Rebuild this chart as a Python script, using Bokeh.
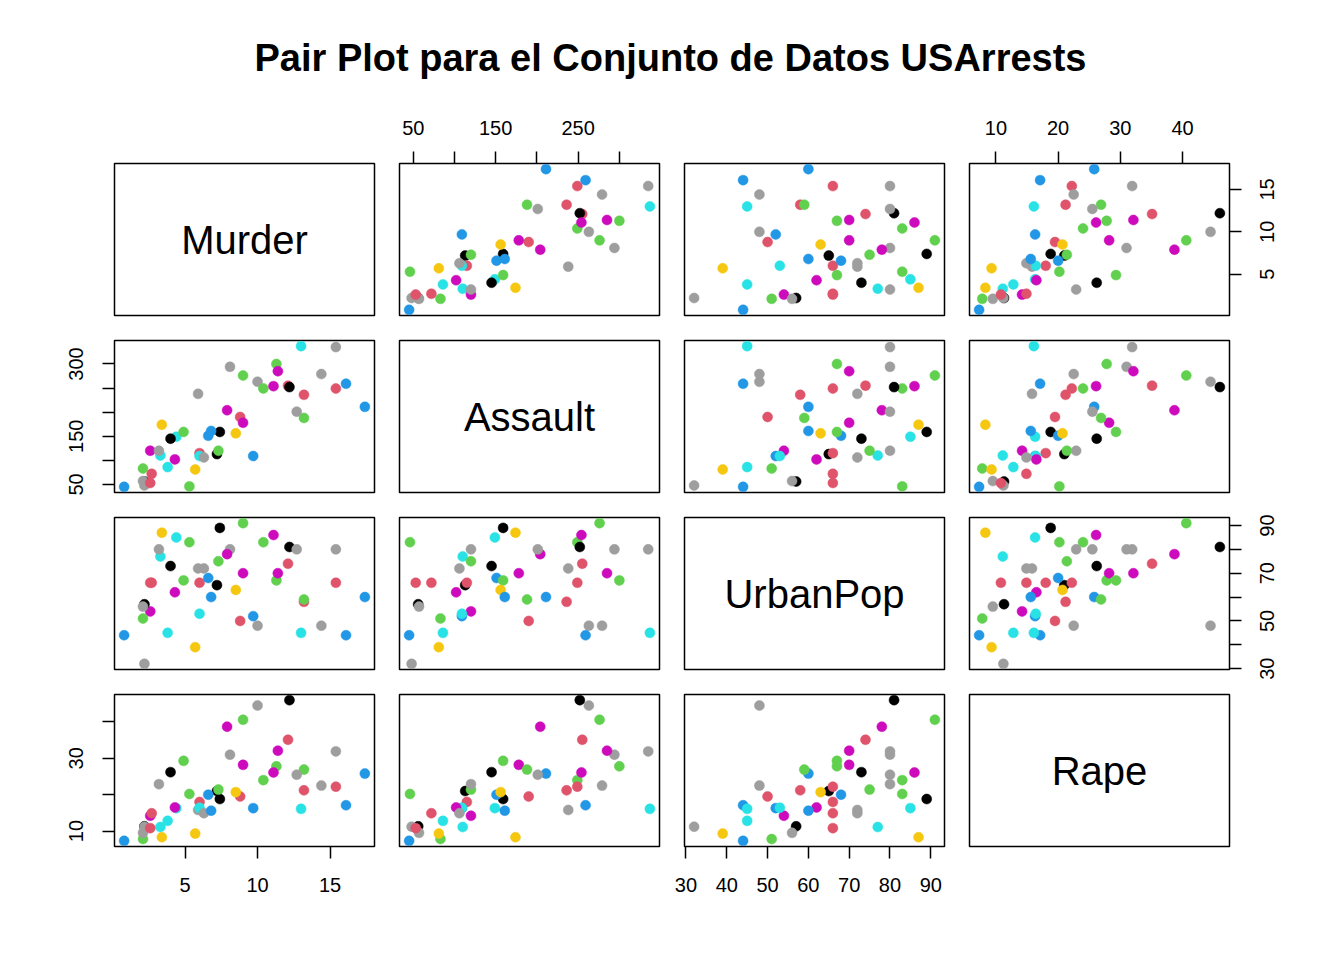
import math
from bokeh.plotting import figure
from bokeh.layouts import gridplot, column
from bokeh.models import Range1d, LinearAxis, FixedTicker, Label, Div
from bokeh.embed import file_html
from bokeh.resources import INLINE

states = ["Alabama", "Alaska", "Arizona", "Arkansas", "California", "Colorado", "Connecticut",
          "Delaware", "Florida", "Georgia", "Hawaii", "Idaho", "Illinois", "Indiana", "Iowa",
          "Kansas", "Kentucky", "Louisiana", "Maine", "Maryland", "Massachusetts", "Michigan",
          "Minnesota", "Mississippi", "Missouri", "Montana", "Nebraska", "Nevada", "New Hampshire",
          "New Jersey", "New Mexico", "New York", "North Carolina", "North Dakota", "Ohio",
          "Oklahoma", "Oregon", "Pennsylvania", "Rhode Island", "South Carolina", "South Dakota",
          "Tennessee", "Texas", "Utah", "Vermont", "Virginia", "Washington", "West Virginia",
          "Wisconsin", "Wyoming"]
murder = [13.2, 10.0, 8.1, 8.8, 9.0, 7.9, 3.3, 5.9, 15.4, 17.4, 5.3, 2.6, 10.4, 7.2, 2.2,
          6.0, 9.7, 15.4, 2.1, 11.3, 4.4, 12.1, 2.7, 16.1, 9.0, 6.0, 4.3, 12.2, 2.1, 7.4,
          11.4, 11.1, 13.0, 0.8, 7.3, 6.6, 4.9, 6.3, 3.4, 14.4, 3.8, 13.2, 12.7, 3.2, 2.2,
          8.5, 4.0, 5.7, 2.6, 6.8]
assault = [236, 263, 294, 190, 276, 204, 110, 238, 335, 211, 46, 120, 249, 113, 56,
           115, 109, 249, 83, 300, 149, 255, 72, 259, 178, 109, 102, 252, 57, 159,
           285, 254, 337, 45, 120, 151, 159, 106, 174, 279, 86, 188, 201, 120, 48,
           156, 145, 81, 53, 161]
urbanpop = [58, 48, 80, 50, 91, 78, 77, 72, 80, 60, 83, 54, 83, 65, 57,
            66, 52, 66, 51, 67, 85, 74, 66, 44, 70, 53, 62, 81, 56, 89,
            70, 86, 45, 44, 75, 68, 67, 72, 87, 48, 45, 59, 80, 80, 32,
            63, 73, 39, 66, 60]
rape = [21.2, 44.5, 31.0, 19.5, 40.6, 38.7, 11.1, 15.8, 31.9, 25.8, 20.2, 14.2, 24.0, 21.0, 11.3,
        18.0, 16.3, 22.2, 7.8, 27.8, 16.3, 35.1, 14.9, 17.1, 28.2, 16.4, 16.5, 46.0, 9.5, 18.8,
        32.1, 26.1, 16.1, 7.3, 21.4, 20.0, 29.3, 14.9, 8.3, 22.5, 12.8, 26.9, 25.5, 22.9, 11.2,
        20.7, 26.2, 9.3, 10.8, 15.6]

var_names = ["Murder", "Assault", "UrbanPop", "Rape"]
data = {"Murder": murder, "Assault": assault, "UrbanPop": urbanpop, "Rape": rape}
ticks = {"Murder": [5, 10, 15],
         "Assault": [50, 100, 150, 200, 250, 300],
         "UrbanPop": [30, 40, 50, 60, 70, 80, 90],
         "Rape": [10, 20, 30, 40]}
hidden_top = {"Assault": [100, 200, 300], "Rape": []}
hidden_bottom = {"Murder": [], "UrbanPop": []}
hidden_left = {"Assault": [100, 200, 250], "Rape": [20, 40]}
hidden_right = {"Murder": [], "UrbanPop": [40, 60, 80]}

title_text = "Pair Plot para el Conjunto de Datos USArrests"

# R 4.x default palette, colour index = UrbanPop (recycled)
palette = ["#000000", "#DF536B", "#61D04F", "#2297E6", "#28E2E5", "#CD0BBC", "#F5C710", "#9E9E9E"]
colors = [palette[(u - 1) % 8] for u in urbanpop]

FONT = "Liberation Sans"
FW, FH = 260, 152
col_left = [114, 13, 13, 13]
col_right = [12, 12, 12, 15]
row_top = [83, 13, 13, 13]
row_bottom = [12, 12, 12, 80]
EXTRA_LEFT, EXTRA_FW = 45, 10          # strip that carries the right-hand tick labels
TOTAL_W = sum(col_left) + sum(col_right) + 4 * FW + EXTRA_LEFT + EXTRA_FW
TITLE_PAD = 42


def rng(vals):
    lo, hi = min(vals), max(vals)
    d = (hi - lo) * 0.04
    return lo - d, hi + d


def make_axis(var, hidden, side, labels=True):
    ax = LinearAxis(ticker=FixedTicker(ticks=ticks[var]))
    ax.major_label_overrides = {t: "" for t in (hidden if labels else ticks[var])}
    ax.axis_line_color = None
    ax.major_tick_line_color = "black"
    ax.major_tick_line_width = 1.5
    ax.major_tick_out = 12
    ax.major_tick_in = 0
    ax.minor_tick_line_color = None
    ax.major_label_text_font = FONT
    ax.major_label_text_font_size = "20px"
    ax.major_label_text_color = "black"
    if side in ("left", "right"):
        ax.major_label_orientation = "vertical"
        ax.major_label_standoff = 19
    elif side == "above":
        ax.major_label_standoff = 17
    else:
        ax.major_label_standoff = 19
    return ax


rows = []
for i, yv in enumerate(var_names):
    row = []
    y0, y1 = rng(data[yv])
    yr = Range1d(y0, y1)
    for j, xv in enumerate(var_names):
        x0, x1 = rng(data[xv])
        p = figure(width=col_left[j] + FW + col_right[j], height=row_top[i] + FH + row_bottom[i],
                   min_border_left=col_left[j], min_border_right=col_right[j],
                   min_border_top=row_top[i], min_border_bottom=row_bottom[i],
                   x_range=Range1d(x0, x1), y_range=yr,
                   x_axis_location=None, y_axis_location=None,
                   toolbar_location=None, output_backend="svg")
        p.grid.visible = False
        p.outline_line_color = "black"
        p.outline_line_width = 1.5
        p.background_fill_color = "white"
        p.border_fill_color = "white"
        if i == j:
            p.add_layout(Label(x=(x0 + x1) / 2, y=(y0 + y1) / 2, text=xv,
                               text_align="center", text_baseline="middle",
                               text_font=FONT, text_font_size="40px", text_color="black"))
        else:
            p.scatter(x=data[xv], y=data[yv], size=10, fill_color=colors,
                      line_color=colors, line_width=0.5)
        # axes like R pairs()
        if i == 0 and j % 2 == 1:
            p.add_layout(make_axis(xv, hidden_top[xv], "above"), "above")
        if i == 3 and j % 2 == 0:
            p.add_layout(make_axis(xv, hidden_bottom[xv], "below"), "below")
        if j == 0 and i % 2 == 1:
            p.add_layout(make_axis(yv, hidden_left[yv], "left"), "left")
        if j == 3 and i % 2 == 0:
            # ticks only; labels come from the strip on the right
            p.add_layout(make_axis(yv, hidden_right[yv], "right", labels=False), "right")
        row.append(p)
    # strip carrying the right-hand labels (read bottom-to-top, centred on ticks, as in R)
    if i % 2 == 0:
        s = figure(width=EXTRA_LEFT + EXTRA_FW, height=row_top[i] + FH + row_bottom[i],
                   min_border_left=EXTRA_LEFT, min_border_right=0,
                   min_border_top=row_top[i], min_border_bottom=row_bottom[i],
                   x_range=Range1d(0, 1), y_range=yr,
                   x_axis_location=None, y_axis_location=None,
                   toolbar_location=None, output_backend="svg")
        s.grid.visible = False
        s.outline_line_color = None
        s.background_fill_color = "white"
        s.border_fill_color = "white"
        ax = make_axis(yv, hidden_right[yv], "left")
        ax.major_tick_out = 0
        ax.major_tick_line_color = None
        ax.major_label_standoff = 15
        s.add_layout(ax, "left")
        row.append(s)
    else:
        row.append(None)
    rows.append(row)

grid = gridplot(rows, toolbar_location=None)

title = Div(text=('<div style="box-sizing:border-box;width:%dpx;padding-left:%dpx;text-align:center;'
                  'font-family:\'Liberation Sans\';font-weight:bold;font-size:38px;line-height:38px;'
                  'padding-top:39px;color:black">' % (TOTAL_W, TITLE_PAD)) + title_text + '</div>',
            width=TOTAL_W, height=80, margin=(0, 0, 0, 0))

layout = column(title, grid)
open("out.html", "w").write(file_html(layout, INLINE))
